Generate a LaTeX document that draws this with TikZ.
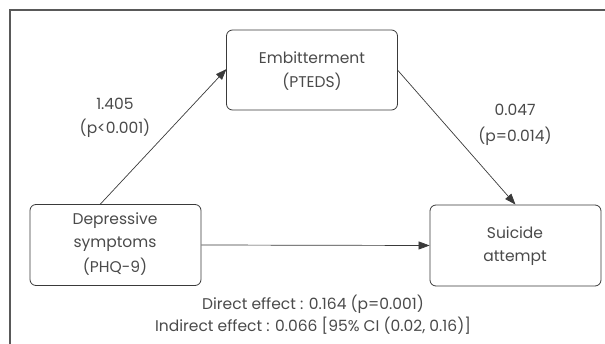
\documentclass[tikz,border=0pt]{standalone}
\usepackage{fontspec}
\setmainfont{Poppins}
\usetikzlibrary{arrows.meta}
\definecolor{txt}{HTML}{4A4A4A}
\definecolor{ln}{HTML}{3A3A3A}
\begin{document}
\begin{tikzpicture}[x=1pt,y=-1pt,
  box/.style={draw=ln,line width=0.8pt,rounded corners=6pt,inner sep=0pt},
  lbl/.style={text=txt,font=\fontsize{15.5}{24}\selectfont,align=center,inner sep=0pt},
  arr/.style={draw=ln,line width=0.7pt,-{Triangle[length=11pt,width=8pt]}}]
\useasboundingbox (0,0) rectangle (605,344);
\draw[draw=gray!70!black,line width=1.2pt] (10,344) -- (10,10) -- (605,10);
\node[box,minimum width=171pt,minimum height=80pt] (emb) at (312,70) {};
\node[box,minimum width=171pt,minimum height=81pt] (dep) at (115.5,245) {};
\node[box,minimum width=171pt,minimum height=81pt] (sui) at (515.5,245.5) {};
\node[lbl] (e1) at (312,58) {Embitterment};
\node[lbl] (e2) at (312,82) {(PTEDS)};
\node[lbl] (d1) at (115,221) {Depressive};
\node[lbl] (d2) at (115,244) {symptoms};
\node[lbl] (d3) at (115,267) {(PHQ-9)};
\node[lbl] (s1) at (515,233) {Suicide};
\node[lbl] (s2) at (515,258) {attempt};
\node[lbl] (a1) at (115,104) {1.405};
\node[lbl] (a2) at (115,128) {(p<0.001)};
\node[lbl] (b1) at (515,110) {0.047};
\node[lbl] (b2) at (515,136) {(p=0.014)};
\node[lbl] (c1) at (313,304) {Direct effect : 0.164 (p=0.001)};
\node[lbl] (c2) at (313,326) {Indirect effect : 0.066 [95\% CI (0.02, 0.16)]};
\coordinate (p1) at (100,204.5);
\coordinate (p2) at (226.5,69);
\coordinate (p3) at (397.5,70);
\draw[arr] (p1) -- (p2);
\draw[arr] (p3) -- (sui.north);
\draw[arr] (dep.east) -- (sui.west);
\end{tikzpicture}
\end{document}
